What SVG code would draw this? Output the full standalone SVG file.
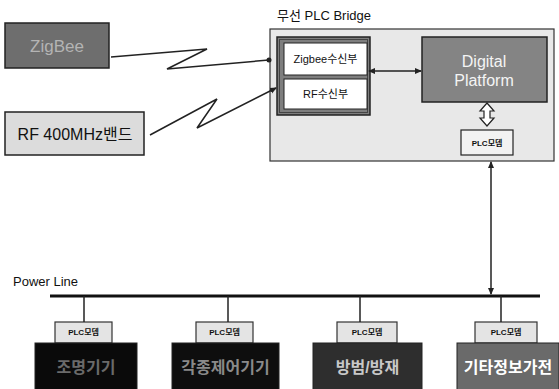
<svg xmlns="http://www.w3.org/2000/svg" width="559" height="389" viewBox="0 0 559 389">
<defs>
<marker id="ah" markerWidth="8" markerHeight="8" refX="6" refY="4" orient="auto-start-reverse" markerUnits="userSpaceOnUse">
<path d="M0,1 L7,4 L0,7 z" fill="#222"/>
</marker>
<marker id="dot" markerWidth="6" markerHeight="6" refX="3" refY="3" markerUnits="userSpaceOnUse">
<circle cx="3" cy="3" r="2.5" fill="#222"/>
</marker>
</defs>
<style>
.k{font-family:"Liberation Sans","Noto Sans CJK KR",sans-serif}
.box{stroke:#222;stroke-width:1.5}
.lt{fill:#dcdcdc}
.wire{fill:none;stroke:#222;stroke-width:1.5}
.plc{fill:#e4e4e4;stroke:#333;stroke-width:1.2}
.plct{font-size:8px;font-weight:bold;fill:#111;text-anchor:middle}
.dev{stroke:#222;stroke-width:1}
.devt{font-size:16px;font-weight:bold;text-anchor:middle}
</style>
<rect width="559" height="389" fill="#ffffff"/>

<g id="zigbee">
<rect class="box" x="5" y="23" width="104" height="45" fill="#6e6e6e"/>
<text class="k" x="57" y="52" font-size="17" fill="#b4b4b4" text-anchor="middle">ZigBee</text>
</g>

<g id="rf400">
<rect class="box lt" x="5" y="112" width="139" height="43"/>
<text class="k" x="75" y="140" font-size="16" fill="#111" text-anchor="middle">RF 400MHz밴드</text>
</g>

<g id="bridge">
<text class="k" x="277" y="20" font-size="13" fill="#111">무선 PLC Bridge</text>
<rect x="270" y="29" width="284" height="132" fill="#e8e8e8" stroke="#333" stroke-width="1.2"/>
</g>

<g id="receivers">
<rect x="277" y="37" width="93" height="78" fill="#7e7e7e" stroke="#222" stroke-width="1.5"/>
<rect x="279.5" y="39.5" width="88" height="73" fill="none" stroke="#444" stroke-width="1"/>
</g>

<g id="zigbee-rx">
<rect x="284" y="43" width="83" height="32" fill="#ffffff" stroke="#222" stroke-width="1"/>
<text class="k" x="325.5" y="63" font-size="11" fill="#111" text-anchor="middle">Zigbee수신부</text>
</g>

<g id="rf-rx">
<rect x="284" y="79" width="83" height="30" fill="#ffffff" stroke="#222" stroke-width="1"/>
<text class="k" x="325.5" y="98" font-size="11" fill="#111" text-anchor="middle">RF수신부</text>
</g>

<g id="digital-platform">
<rect class="box" x="422" y="37" width="125" height="65" fill="#848484"/>
<text class="k" x="484" y="67" font-size="16" fill="#f4f4f4" text-anchor="middle">Digital</text>
<text class="k" x="484" y="86" font-size="16" fill="#f4f4f4" text-anchor="middle">Platform</text>
</g>

<g id="plc-bridge">
<rect x="461" y="130" width="52" height="25" fill="#f2f2f2" stroke="#222" stroke-width="1.2"/>
<text class="k plct" x="487" y="146">PLC모뎀</text>
</g>

<g id="powerline">
<text class="k" x="13" y="286" font-size="13" fill="#111">Power Line</text>
<line x1="50" y1="296" x2="540" y2="296" stroke="#111" stroke-width="3"/>
</g>

<g id="dev1">
<rect class="plc" x="55" y="322" width="57" height="21"/>
<text class="k plct" x="83.5" y="335">PLC모뎀</text>
<rect class="dev" x="35" y="343" width="102" height="50" fill="#0a0a0a"/>
<text class="k devt" x="86" y="373" fill="#6a6a6a">조명기기</text>
</g>

<g id="dev2">
<rect class="plc" x="196" y="322" width="57" height="21"/>
<text class="k plct" x="224.5" y="335">PLC모뎀</text>
<rect class="dev" x="172" y="343" width="107" height="50" fill="#0e0e0e"/>
<text class="k devt" x="225.5" y="373" fill="#8a8a8a">각종제어기기</text>
</g>

<g id="dev3">
<rect class="plc" x="337" y="322" width="60" height="21"/>
<text class="k plct" x="367" y="335">PLC모뎀</text>
<rect class="dev" x="313" y="343" width="109" height="50" fill="#2e2e2e"/>
<text class="k devt" x="367.5" y="373" fill="#c8c8c8">방범/방재</text>
</g>

<g id="dev4">
<rect class="plc" x="475" y="322" width="62" height="21"/>
<text class="k plct" x="506" y="335">PLC모뎀</text>
<rect class="dev" x="457" y="343" width="102" height="50" fill="#6a6a6a"/>
<text class="k devt" x="508" y="373" fill="#ffffff">기타정보가전</text>
</g>

<g id="connectors">
<polyline class="wire" points="111,57 207,49 167,69 269,60" marker-end="url(#dot)"/>
<polyline class="wire" points="150,135 217,99 197,128 276,88" marker-end="url(#ah)"/>
<line class="wire" x1="369" y1="71" x2="421" y2="71" marker-start="url(#ah)" marker-end="url(#ah)"/>
<path d="M487,103 L494,111 L490,111 L490,118 L494,118 L487,126 L480,118 L484,118 L484,111 L480,111 Z" fill="#ffffff" stroke="#222" stroke-width="1.2"/>
<line class="wire" x1="491" y1="162" x2="491" y2="294" stroke-width="1.2" marker-start="url(#ah)" marker-end="url(#ah)"/>
<line class="wire" x1="84" y1="296" x2="84" y2="322" stroke-width="2"/>
<line class="wire" x1="228" y1="296" x2="228" y2="322" stroke-width="2"/>
<line class="wire" x1="360" y1="296" x2="360" y2="322" stroke-width="2"/>
<line class="wire" x1="501" y1="296" x2="501" y2="322" stroke-width="2"/>
</g>
</svg>
